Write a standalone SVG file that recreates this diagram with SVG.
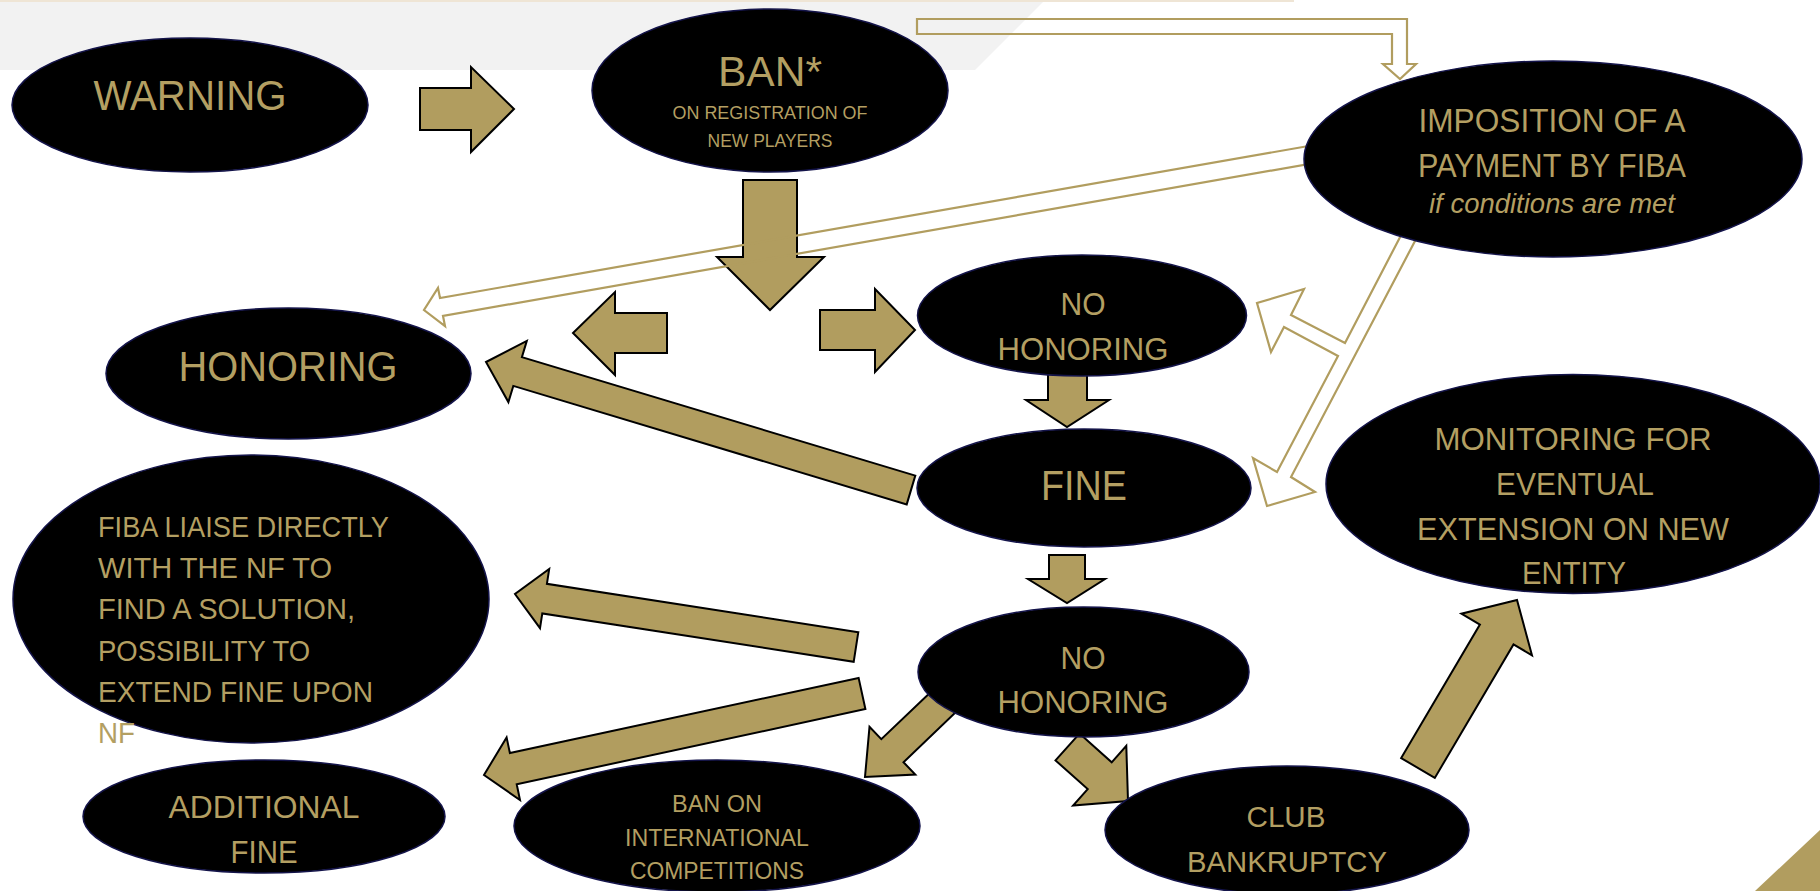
<svg xmlns="http://www.w3.org/2000/svg" width="1820" height="891" viewBox="0 0 1820 891">
<style>
.bg{fill:#F2F2F2}
.node ellipse{fill:#000;stroke:#14144a;stroke-width:1.5}
.t{font-family:"Liberation Sans",Arial,sans-serif;fill:#B39F62;text-anchor:middle}
.tl{font-family:"Liberation Sans",Arial,sans-serif;fill:#B39F62;text-anchor:start}
.blk{fill:#B19D5F;stroke:#000;stroke-width:2;stroke-linejoin:miter}
.hol{fill:none;stroke:#B19D5F;stroke-width:2.2;stroke-linejoin:miter}
</style>
<rect width="1820" height="891" fill="#fff"/>
<rect x="0" y="0" width="1294" height="2" fill="#EFE5D5"/>
<polygon class="bg" points="0,2 1043,2 975,70 0,70"/>
<polygon points="1755,891 1820,830 1820,891" fill="#B19D5F"/>

<g id="connectors">
  <polygon class="blk" points="420,88 471,88 471,67 514,109 471,152 471,130 420,130"/>
  <polygon class="blk" points="743,180 797,180 797,257 824,257 770,310 717,257 743,257"/>
  <polygon class="blk" points="667,313 615,313 615,292 573,333 615,375 615,353 667,353"/>
  <polygon class="blk" points="820,310 875,310 875,289 915,330 875,372 875,350 820,350"/>
  <polygon class="blk" points="1048,372 1087,372 1087,400 1109,400 1067,427 1026,400 1048,400"/>
  <polygon class="blk" points="1049,555 1085,555 1085,579 1105,579 1067,603 1028,579 1049,579"/>
  <polygon class="blk" points="915.3,475.6 521.9,357.1 526.8,340.9 486,362 508.4,402.1 513.3,385.9 906.7,504.4"/>
  <polygon class="blk" points="858.3,632.2 546.9,583.8 549.2,569 515,594 540,628.2 542.3,613.4 853.7,661.8"/>
  <polygon class="blk" points="858.6,677.9 509.9,753.1 506.6,737.4 484,775 520,800 516.7,784.3 865.4,709.1"/>
  <polygon class="blk" points="935,688 881.3,739.2 869.5,726.9 865,777 915.3,774.5 903.5,762.2 957,711"/>
  <polygon class="blk" points="1079.5,733.6 1111.7,762.3 1126.3,745.9 1128,801 1073.1,805.5 1087.7,789.1 1055.5,760.4"/>
  <polygon class="blk" points="1401.2,758.1 1479.9,624.6 1461.4,613.7 1517,600 1532,655.3 1513.5,644.4 1434.8,777.9"/>
  <polygon class="hol" points="917,19 1407,19 1407,64 1416,64 1400,79 1383,64 1392,64 1392,34 917,34"/>
  <polygon class="hol" points="1320,144 440,298 438,288 424,310 445,326 443,316 1320,162"/>
  <polygon class="hol" points="1425,222 1291,477 1315,492 1267,506 1253,458 1277,472 1338,356 1284,327 1271,352 1257,303 1304,289 1291,315 1345,343 1410,218"/>
</g>

<g id="warning" class="node">
  <ellipse cx="190" cy="105" rx="178" ry="67"/>
  <text class="t" x="190" y="110" font-size="42" textLength="193" lengthAdjust="spacingAndGlyphs">WARNING</text>
</g>
<g id="ban" class="node">
  <ellipse cx="770" cy="90.5" rx="178" ry="81.5"/>
  <text class="t" x="770" y="86" font-size="43" textLength="104" lengthAdjust="spacingAndGlyphs">BAN*</text>
  <text class="t" x="770" y="119" font-size="18" textLength="195" lengthAdjust="spacingAndGlyphs">ON REGISTRATION OF</text>
  <text class="t" x="770" y="147" font-size="18" textLength="125" lengthAdjust="spacingAndGlyphs">NEW PLAYERS</text>
</g>
<g id="imposition" class="node">
  <ellipse cx="1553" cy="159" rx="249" ry="98"/>
  <text class="t" x="1552" y="132" font-size="33.5" textLength="267" lengthAdjust="spacingAndGlyphs">IMPOSITION OF A</text>
  <text class="t" x="1552" y="177" font-size="33.5" textLength="268" lengthAdjust="spacingAndGlyphs">PAYMENT BY FIBA</text>
  <text class="t" x="1552" y="213" font-size="28" font-style="italic" textLength="246" lengthAdjust="spacingAndGlyphs">if conditions are met</text>
</g>
<g id="honoring" class="node">
  <ellipse cx="288.5" cy="373.5" rx="182.5" ry="65.5"/>
  <text class="t" x="288" y="381" font-size="42" textLength="219" lengthAdjust="spacingAndGlyphs">HONORING</text>
</g>
<g id="no-honoring-1" class="node">
  <ellipse cx="1082" cy="315.5" rx="164.5" ry="60.5"/>
  <text class="t" x="1083" y="315" font-size="32" textLength="45" lengthAdjust="spacingAndGlyphs">NO</text>
  <text class="t" x="1083" y="360" font-size="32" textLength="171" lengthAdjust="spacingAndGlyphs">HONORING</text>
</g>
<g id="fine" class="node">
  <ellipse cx="1084" cy="488" rx="167" ry="59"/>
  <text class="t" x="1084" y="500" font-size="42" textLength="86" lengthAdjust="spacingAndGlyphs">FINE</text>
</g>
<g id="monitoring" class="node">
  <ellipse cx="1573" cy="484" rx="247" ry="109.5"/>
  <text class="t" x="1573" y="450" font-size="32" textLength="277" lengthAdjust="spacingAndGlyphs">MONITORING FOR</text>
  <text class="t" x="1575" y="495" font-size="32" textLength="158" lengthAdjust="spacingAndGlyphs">EVENTUAL</text>
  <text class="t" x="1573" y="540" font-size="32" textLength="312" lengthAdjust="spacingAndGlyphs">EXTENSION ON NEW</text>
  <text class="t" x="1574" y="584" font-size="32" textLength="104" lengthAdjust="spacingAndGlyphs">ENTITY</text>
</g>
<g id="fiba-liaise" class="node">
  <ellipse cx="251" cy="599" rx="238" ry="144"/>
  <text class="tl" x="98" y="537" font-size="29" textLength="291" lengthAdjust="spacingAndGlyphs">FIBA LIAISE DIRECTLY</text>
  <text class="tl" x="98" y="578" font-size="29" textLength="234" lengthAdjust="spacingAndGlyphs">WITH THE NF TO</text>
  <text class="tl" x="98" y="619" font-size="29" textLength="257" lengthAdjust="spacingAndGlyphs">FIND A SOLUTION,</text>
  <text class="tl" x="98" y="661" font-size="29" textLength="212" lengthAdjust="spacingAndGlyphs">POSSIBILITY TO</text>
  <text class="tl" x="98" y="702" font-size="29" textLength="275" lengthAdjust="spacingAndGlyphs">EXTEND FINE UPON</text>
  <text class="tl" x="98" y="743" font-size="29" textLength="37" lengthAdjust="spacingAndGlyphs">NF</text>
</g>
<g id="no-honoring-2" class="node">
  <ellipse cx="1083.5" cy="672" rx="165.5" ry="65"/>
  <text class="t" x="1083" y="669" font-size="32" textLength="45" lengthAdjust="spacingAndGlyphs">NO</text>
  <text class="t" x="1083" y="713" font-size="32" textLength="171" lengthAdjust="spacingAndGlyphs">HONORING</text>
</g>
<g id="additional-fine" class="node">
  <ellipse cx="264" cy="816.5" rx="181" ry="56.5"/>
  <text class="t" x="264" y="818" font-size="32" textLength="191" lengthAdjust="spacingAndGlyphs">ADDITIONAL</text>
  <text class="t" x="264" y="863" font-size="32" textLength="67" lengthAdjust="spacingAndGlyphs">FINE</text>
</g>
<g id="ban-international" class="node">
  <ellipse cx="717" cy="826" rx="203" ry="66"/>
  <text class="t" x="717" y="812" font-size="24" textLength="90" lengthAdjust="spacingAndGlyphs">BAN ON</text>
  <text class="t" x="717" y="846" font-size="24" textLength="184" lengthAdjust="spacingAndGlyphs">INTERNATIONAL</text>
  <text class="t" x="717" y="879" font-size="24" textLength="174" lengthAdjust="spacingAndGlyphs">COMPETITIONS</text>
</g>
<g id="club-bankruptcy" class="node">
  <ellipse cx="1287" cy="830" rx="182" ry="64"/>
  <text class="t" x="1286" y="827" font-size="30" textLength="79" lengthAdjust="spacingAndGlyphs">CLUB</text>
  <text class="t" x="1287" y="872" font-size="30" textLength="200" lengthAdjust="spacingAndGlyphs">BANKRUPTCY</text>
</g>
</svg>
